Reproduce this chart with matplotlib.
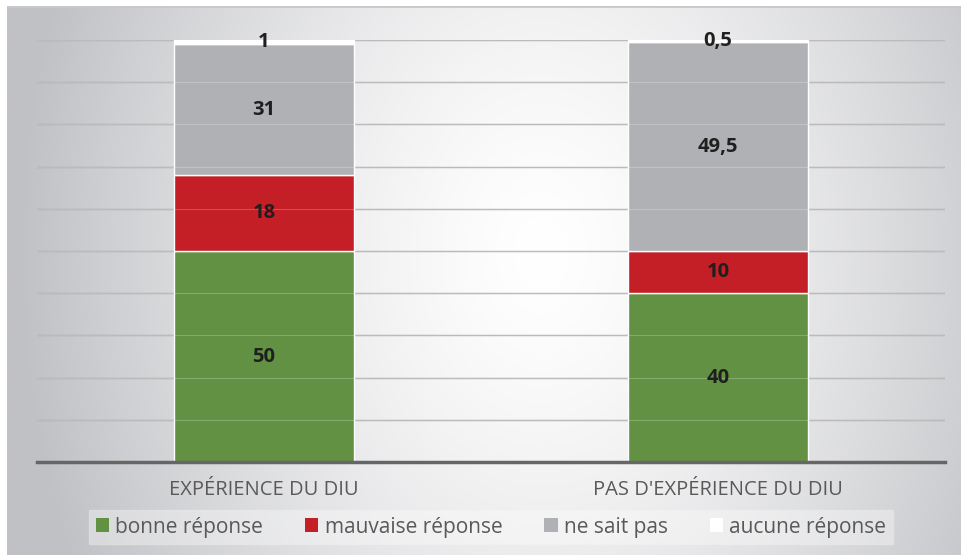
import numpy as np
import matplotlib.pyplot as plt
from matplotlib.patches import Patch

plt.rcParams['font.family'] = ['Open Sans', 'DejaVu Sans']

categories = ["EXPÉRIENCE DU DIU", "PAS D'EXPÉRIENCE DU DIU"]
series = ['bonne réponse', 'mauvaise réponse', 'ne sait pas', 'aucune réponse']
values = {
    'bonne réponse': [50, 40],
    'mauvaise réponse': [18, 10],
    'ne sait pas': [31, 49.5],
    'aucune réponse': [1, 0.5],
}
colors = ['#629143', '#c41e26', '#b0b1b5', '#ffffff']

W, H = 962, 555
fig = plt.figure(figsize=(W / 100, H / 100), dpi=100)

# gradient background
bg = fig.add_axes([7 / W, 0, 1 - 7 / W, 1 - 6 / H], zorder=-10)
yy, xx = np.mgrid[0:1:300j, 0:1:500j]
d = np.sqrt(((xx - 0.56) / 0.55) ** 2 + ((yy - 0.55) / 1.3) ** 2)
d = np.clip(d, 0, 1)
top = np.array([1.0, 1.0, 1.0])
edge = np.array([192, 193, 197]) / 255
img = top[None, None, :] * (1 - d[..., None] ** 1.4) + edge[None, None, :] * d[..., None] ** 1.4
bg.imshow(img, aspect='auto', extent=[0, 1, 0, 1], origin='lower')
bg.axhline(1, color='#c8c8ca', lw=2)
bg.axis('off')

ax = fig.add_axes([37 / W, (H - 462) / H, (945 - 37) / W, (462 - 40) / H])
ax.patch.set_alpha(0)
x = np.arange(len(categories))
bottom = np.zeros(len(categories))
for name, c in zip(series, colors):
    v = np.array(values[name])
    ax.bar(x, v, 0.396, bottom=bottom, color=c, edgecolor='white', lw=1, zorder=2)
    for xi, b, vi in zip(x, bottom, v):
        ax.text(xi, b + vi / 2, f'{vi:g}'.replace('.', ','), ha='center', va='center',
                fontsize=14.5, fontweight='bold', color='#1f1f1f', zorder=4)
    bottom += v

ax.set_xlim(-0.5, 1.5)
ax.set_ylim(0, 100)
for yv in range(10, 101, 10):
    ax.axhline(yv, color='#a8a8aa', lw=1, zorder=1)
    ax.axhline(yv, color='white', lw=0.8, alpha=0.22, zorder=3)
for s in ['top', 'right', 'left']:
    ax.spines[s].set_visible(False)
ax.spines['bottom'].set_color('#666666')
ax.spines['bottom'].set_linewidth(2.5)
ax.spines['bottom'].set_zorder(5)
ax.set_yticks([])
ax.set_xticks(x)
ax.set_xticklabels(categories, fontsize=14.5, color='#595959')
ax.tick_params(axis='x', length=0, pad=13)

handles = [Patch(facecolor=c, edgecolor='none') for c in colors]
leg = fig.legend(handles, series, loc='center', bbox_to_anchor=(491 / W, 1 - 527 / H), ncol=4,
                 fontsize=15, handlelength=0.65, handleheight=0.65, handletextpad=0.3,
                 columnspacing=2.0, frameon=True, fancybox=False, borderpad=0.3)
leg.get_frame().set_facecolor('#ffffff')
leg.get_frame().set_alpha(0.35)
leg.get_frame().set_edgecolor('#f4f4f4')
for t in leg.get_texts():
    t.set_color('#595959')

fig.savefig('out.png', dpi=100)
